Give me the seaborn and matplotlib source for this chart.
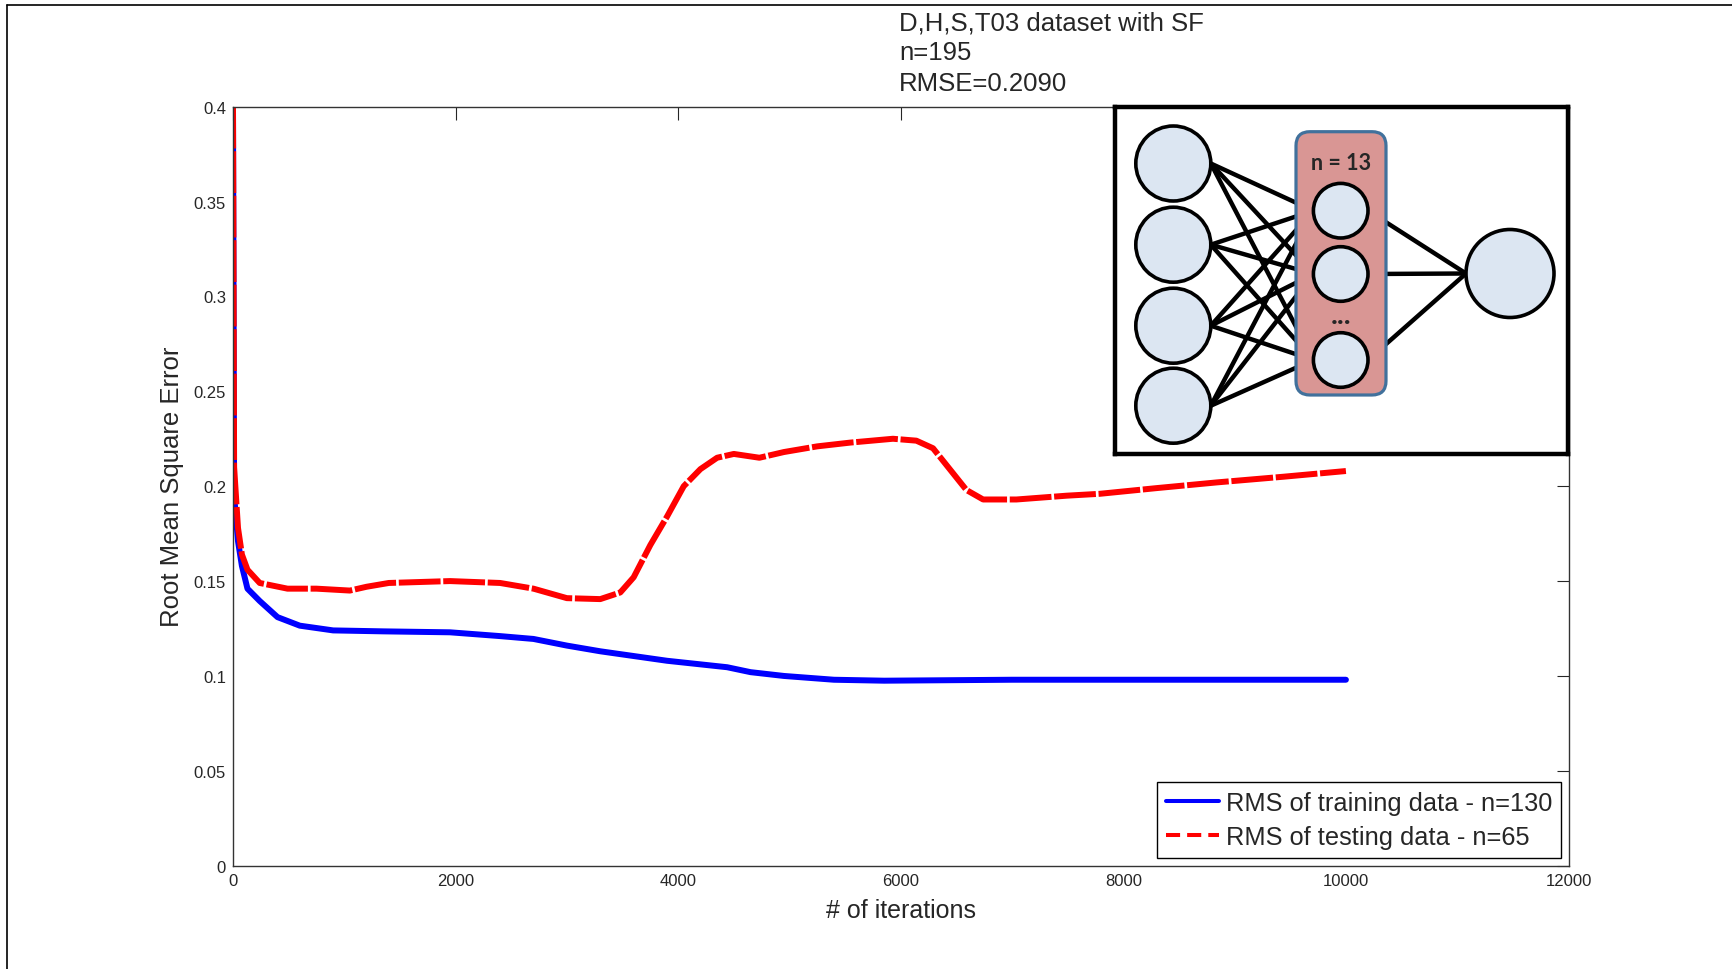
import numpy as np
import pandas as pd
import seaborn as sns
import matplotlib.pyplot as plt
from matplotlib.lines import Line2D
from matplotlib.patches import Circle, FancyBboxPatch

# --- data ---
train_iter = [0, 10, 45, 80, 130, 240, 400, 600, 900, 1350, 1950, 2400, 2700, 3000,
              3300, 3600, 3900, 4440, 4650, 4950, 5400, 5850, 7000, 8000, 9000, 10000]
train_rms = [0.400, 0.195, 0.171, 0.158, 0.146, 0.1395, 0.131, 0.1265, 0.124, 0.1235,
             0.123, 0.121, 0.1195, 0.116, 0.113, 0.1105, 0.108, 0.1046, 0.102, 0.100,
             0.098, 0.0975, 0.098, 0.098, 0.098, 0.098]

test_iter = [0, 10, 45, 80, 130, 240, 490, 750, 1050, 1200, 1400, 1950, 2400, 2700,
             3000, 3300, 3480, 3600, 3750, 3900, 4050, 4200, 4350, 4500, 4730, 4950,
             5250, 5550, 5930, 6140, 6290, 6440, 6590, 6740, 7040, 7490, 7790, 8300,
             8840, 9440, 10000]
test_rms = [0.400, 0.210, 0.178, 0.164, 0.156, 0.149, 0.146, 0.146, 0.145, 0.147,
            0.149, 0.150, 0.149, 0.146, 0.141, 0.1405, 0.144, 0.152, 0.169, 0.184,
            0.200, 0.209, 0.215, 0.217, 0.215, 0.218, 0.221, 0.223, 0.225, 0.224,
            0.220, 0.209, 0.198, 0.193, 0.193, 0.195, 0.196, 0.199, 0.202, 0.205, 0.208]

series_names = ["RMS of training data - n=130", "RMS of testing data - n=65"]
title_lines = ["D,H,S,T03 dataset with SF", "n=195", "RMSE=0.2090"]
x_ticks = [0, 2000, 4000, 6000, 8000, 10000, 12000]
y_ticks = [0, 0.05, 0.1, 0.15, 0.2, 0.25, 0.3, 0.35, 0.4]
y_tick_labels = ["0", "0.05", "0.1", "0.15", "0.2", "0.25", "0.3", "0.35", "0.4"]
hidden_label = "n = 13"

df = pd.concat([
    pd.DataFrame({"iter": train_iter, "rms": train_rms, "set": series_names[0]}),
    pd.DataFrame({"iter": test_iter, "rms": test_rms, "set": series_names[1]}),
])

sns.set_style("white")
plt.rcParams["font.family"] = ["Liberation Sans", "DejaVu Sans"]

W, H = 1732, 970
fig = plt.figure(figsize=(W / 100, H / 100), dpi=100)
ax = fig.add_axes([233 / W, 1 - 866.7 / H, 1335.5 / W, 759 / H])

# the noisy MATLAB dashed line reads almost solid, so keep the gaps tiny
sns.lineplot(data=df, x="iter", y="rms", hue="set", style="set",
             palette={series_names[0]: "#0000ff", series_names[1]: "#ff0000"},
             dashes={series_names[0]: "", series_names[1]: (7, 0.45)},
             linewidth=4.3, legend=False, ax=ax, sort=False)

ax.set_xlim(0, 12000)
ax.set_ylim(0, 0.4)
ax.set_xticks(x_ticks)
ax.set_xticklabels([str(t) for t in x_ticks])
ax.set_yticks(y_ticks)
ax.set_yticklabels(y_tick_labels)
ax.tick_params(direction="in", length=9, width=0.8, top=True, right=True,
               labelsize=12, colors="#262626")
ax.tick_params(axis="x", pad=5)
ax.tick_params(axis="y", pad=5)
for sp in ax.spines.values():
    sp.set_visible(True)
    sp.set_color("#333333")
    sp.set_linewidth(1.0)

ax.set_xlabel("# of iterations", fontsize=18)
ax.set_ylabel("Root Mean Square Error", fontsize=18.5)
ax.xaxis.set_label_coords(0.5, -0.043)
ax.yaxis.set_label_coords(-0.037, 0.5)

handles = [Line2D([], [], color="#0000ff", lw=2.9),
           Line2D([], [], color="#ff0000", lw=2.9, ls=(0, (3.5, 1.75)))]
leg = ax.legend(handles, series_names, loc="lower right", fontsize=18.3,
                frameon=True, fancybox=False, edgecolor="black", framealpha=1,
                borderaxespad=0.3, handlelength=2.1, handletextpad=0.25,
                labelspacing=0.42, borderpad=0.35)
leg.get_frame().set_linewidth(1.0)

fig.text(899 / W, 1 - 11 / H, "\n".join(title_lines), ha="left", va="top",
         fontsize=18.5, linespacing=1.33)

# --- network sketch inset (pixel coordinates of the inset box) ---
bx0, by0, bx1, by1 = 1115, 107.7, 1568, 455
axi = fig.add_axes([bx0 / W, 1 - by1 / H, (bx1 - bx0) / W, (by1 - by0) / H])
axi.set_xlim(bx0, bx1)
axi.set_ylim(by1, by0)
axi.set_xticks([])
axi.set_yticks([])
axi.set_facecolor("white")
for sp in axi.spines.values():
    sp.set_color("black")
    sp.set_linewidth(3.2)

in_x, in_r = 1173.3, 37.5
in_y = [164.5, 245.7, 326.7, 406.7]
hid_x, hid_r = 1340.7, 27.3
hid_y = [211.7, 275, 361]
out_x, out_y, out_r = 1510, 274.5, 44

for yi in in_y:
    for yh in hid_y:
        axi.plot([in_x + in_r, hid_x - hid_r], [yi, yh], color="black", lw=3.2,
                 zorder=1, solid_capstyle="round")
for yh in hid_y:
    axi.plot([hid_x + hid_r, out_x - out_r], [yh, out_y], color="black", lw=3.2,
             zorder=1, solid_capstyle="round")

axi.add_patch(FancyBboxPatch((1296, 132.7), 90, 263.3,
                             boxstyle="round,pad=0,rounding_size=14",
                             facecolor="#d99694", edgecolor="#41719c", lw=2.3, zorder=2))
for yi in in_y:
    axi.add_patch(Circle((in_x, yi), in_r, facecolor="#dce6f2", edgecolor="black",
                         lw=2.6, zorder=3))
for yh in hid_y:
    axi.add_patch(Circle((hid_x, yh), hid_r, facecolor="#dce6f2", edgecolor="black",
                         lw=2.6, zorder=3))
axi.add_patch(Circle((out_x, out_y), out_r, facecolor="#dce6f2", edgecolor="black",
                     lw=2.6, zorder=3))
axi.text(hid_x, 164, hidden_label, ha="center", va="center", fontsize=15.5,
         fontweight="bold", family=["Lato", "DejaVu Sans"], zorder=4)
axi.text(hid_x, 324, "...", ha="center", va="baseline", fontsize=21,
         fontweight="bold", family=["Lato", "DejaVu Sans"], zorder=4)

# page frame lines seen at the left and top of the reference
fig.add_artist(Line2D([7.5 / W, 7.5 / W], [0, 1 - 6 / H], color="black", lw=1.2))
fig.add_artist(Line2D([7.5 / W, 1], [1 - 6 / H, 1 - 6 / H], color="black", lw=1.2))

fig.savefig("out.png", dpi=100, facecolor="white")
